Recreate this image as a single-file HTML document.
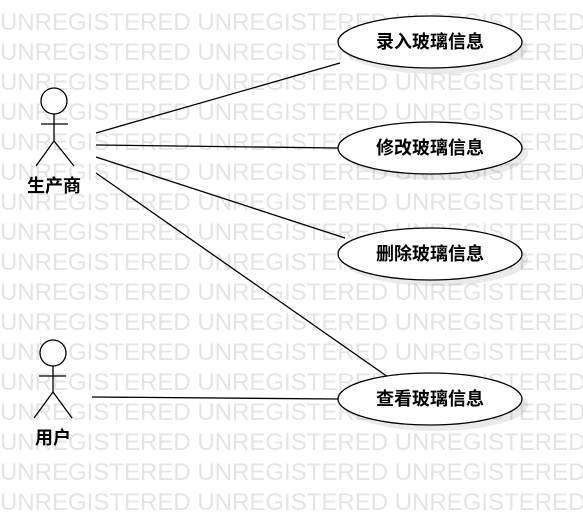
<!DOCTYPE html>
<html><head><meta charset="utf-8"><style>
html,body{margin:0;padding:0;background:#fff;width:583px;height:517px;overflow:hidden}
</style></head><body>
<svg width="583" height="517" xmlns="http://www.w3.org/2000/svg" font-family="Liberation Sans, Noto Sans CJK SC, sans-serif">
<g fill="#e4e4e4" font-size="24">
<text x="0" y="30">UNREGISTERED UNREGISTERED UNREGISTERED</text>
<text x="0" y="60">UNREGISTERED UNREGISTERED UNREGISTERED</text>
<text x="0" y="90">UNREGISTERED UNREGISTERED UNREGISTERED</text>
<text x="0" y="120">UNREGISTERED UNREGISTERED UNREGISTERED</text>
<text x="0" y="150">UNREGISTERED UNREGISTERED UNREGISTERED</text>
<text x="0" y="180">UNREGISTERED UNREGISTERED UNREGISTERED</text>
<text x="0" y="210">UNREGISTERED UNREGISTERED UNREGISTERED</text>
<text x="0" y="240">UNREGISTERED UNREGISTERED UNREGISTERED</text>
<text x="0" y="270">UNREGISTERED UNREGISTERED UNREGISTERED</text>
<text x="0" y="300">UNREGISTERED UNREGISTERED UNREGISTERED</text>
<text x="0" y="330">UNREGISTERED UNREGISTERED UNREGISTERED</text>
<text x="0" y="360">UNREGISTERED UNREGISTERED UNREGISTERED</text>
<text x="0" y="390">UNREGISTERED UNREGISTERED UNREGISTERED</text>
<text x="0" y="420">UNREGISTERED UNREGISTERED UNREGISTERED</text>
<text x="0" y="450">UNREGISTERED UNREGISTERED UNREGISTERED</text>
<text x="0" y="480">UNREGISTERED UNREGISTERED UNREGISTERED</text>
<text x="0" y="510">UNREGISTERED UNREGISTERED UNREGISTERED</text>
</g>
<g stroke="#000" stroke-width="1.3" fill="none">
<line x1="96" y1="133" x2="340" y2="63"/>
<line x1="96" y1="145" x2="338" y2="148"/>
<line x1="96" y1="157" x2="345" y2="238"/>
<line x1="96" y1="173" x2="388" y2="377"/>
<line x1="92" y1="397" x2="338" y2="399"/>
<circle cx="54" cy="101" r="13" fill="#fff"/>
<line x1="41" y1="124" x2="68" y2="124"/><line x1="54" y1="114" x2="54" y2="141"/>
<polyline points="36,166 54,141 74,166"/>
<circle cx="53" cy="353" r="13" fill="#fff"/>
<line x1="39" y1="376" x2="66" y2="376"/><line x1="53" y1="366" x2="53" y2="392"/>
<polyline points="34,418 53,392 72,418"/>
</g>
<g fill="#000" opacity="0.08">
<ellipse cx="436" cy="48" rx="92" ry="26"/><ellipse cx="436" cy="154" rx="92" ry="26"/>
<ellipse cx="436" cy="260" rx="92" ry="26"/><ellipse cx="436" cy="405" rx="92" ry="26"/>
</g>
<g stroke="#000" stroke-width="1.3" fill="#fff">
<ellipse cx="430" cy="42" rx="92" ry="26"/><ellipse cx="430" cy="148" rx="92" ry="26"/>
<ellipse cx="430" cy="254" rx="92" ry="26"/><ellipse cx="430" cy="399" rx="92" ry="26"/>
</g>
<g font-size="18" font-weight="bold" text-anchor="middle" fill="#000">
<text x="430" y="48">录入玻璃信息</text><text x="430" y="154">修改玻璃信息</text>
<text x="430" y="260">删除玻璃信息</text><text x="430" y="405">查看玻璃信息</text>
<text x="54" y="192">生产商</text><text x="53" y="444">用户</text>
</g>
</svg>
</body></html>
